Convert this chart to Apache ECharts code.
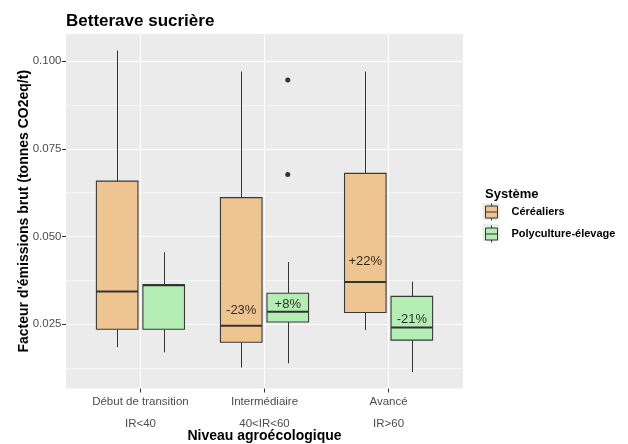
<!DOCTYPE html>
<html lang="fr">
<head>
<meta charset="UTF-8">
<title>Betterave sucrière</title>
<script src="https://cdn.jsdelivr.net/npm/echarts@6/dist/echarts.min.js"></script>
<style>html,body{margin:0;padding:0;background:#fff;}</style>
</head>
<body>
<div id="boxChart" style="width:628px;height:444px;"></div>
<script>
    // niveaux agroécologiques (axe x)
    let niveaux = ['Début de transition', 'Intermédiaire', 'Avancé'];
    let niveauxIR = ['IR<40', '40<IR<60', 'IR>60'];
    let yTicks = [0.025, 0.05, 0.075, 0.1];
    let yMinorTicks = [0.0125, 0.0375, 0.0625, 0.0875];

    // [min, Q1, médiane, Q3, max]
    let cerealiers = [
        [0.0184, 0.0235, 0.0343, 0.0658, 0.1031],
        [0.0126, 0.0198, 0.0245, 0.0611, 0.0971],
        [0.0233, 0.0283, 0.0370, 0.0680, 0.0971]
    ];
    let polyculture = [
        [0.0169, 0.0235, 0.0361, 0.0362, 0.0455],
        [0.0138, 0.0256, 0.0285, 0.0338, 0.0427],
        [0.0113, 0.0204, 0.0240, 0.0329, 0.0371]
    ];
    let polyOutliers = [[1, 0.0947], [1, 0.0677]];

    // écarts affichés sur les boîtes
    let cerealLabels = ['', '-23%', '+22%'];
    let cerealLabelY = [null, 0.0289, 0.0428];
    let polyLabels = ['', '+8%', '-21%'];
    let polyLabelY = [null, 0.0306, 0.0263];

    let couleurCereal = '#EEC591';
    let couleurPoly = '#B4EEB4';
    let dodge = 0.1875;
    let boxWidth = 0.335;

    function boxRenderer(offset, fill) {
        return function (params, api) {
            let x = api.value(0) + offset;
            let left = api.coord([x - boxWidth / 2, 0])[0];
            let right = api.coord([x + boxWidth / 2, 0])[0];
            let cx = Math.round(api.coord([x, 0])[0]) + 0.5;
            let yMin = api.coord([x, api.value(1)])[1];
            let yQ1 = api.coord([x, api.value(2)])[1];
            let yMed = api.coord([x, api.value(3)])[1];
            let yQ3 = api.coord([x, api.value(4)])[1];
            let yMax = api.coord([x, api.value(5)])[1];
            let trait = {stroke: '#333', lineWidth: 1};
            return {
                type: 'group',
                children: [
                    {type: 'line', shape: {x1: cx, y1: yMax, x2: cx, y2: yQ3}, style: trait},
                    {type: 'line', shape: {x1: cx, y1: yQ1, x2: cx, y2: yMin}, style: trait},
                    {
                        type: 'rect',
                        shape: {x: left, y: yQ3, width: right - left, height: yQ1 - yQ3},
                        style: {fill: fill, stroke: '#3a3a3a', lineWidth: 1.1}
                    },
                    {type: 'line', shape: {x1: left, y1: yMed, x2: right, y2: yMed}, style: {stroke: '#333', lineWidth: 2.1}}
                ]
            };
        };
    }

    function labelData(labels, ys, offset) {
        let out = [];
        labels.forEach(function (t, i) {
            if (t) out.push([i + offset, ys[i], t]);
        });
        return out;
    }

    let iconeBoite = 'path://M6,0 L6,2.5 M0,2.5 L12,2.5 L12,14.5 L0,14.5 Z M0,8.5 L12,8.5 M6,14.5 L6,17';

    let myChart = echarts.init(document.getElementById('boxChart'));
    let option = {
        animation: false,
        title: [{
            text: 'Betterave sucrière',
            left: 66,
            top: 13,
            padding: 0,
            textStyle: {fontFamily: 'Liberation Sans', fontSize: 17, fontWeight: 'bold', color: '#000'}
        }, {
            text: 'Système',
            left: 485,
            top: 188,
            padding: 0,
            textStyle: {fontFamily: 'Liberation Sans', fontSize: 13, fontWeight: 'bold', color: '#000'}
        }],
        legend: {
            orient: 'vertical',
            left: 485,
            top: 203,
            padding: 0,
            itemWidth: 12,
            itemHeight: 17,
            itemGap: 4,
            selectedMode: false,
            textStyle: {fontFamily: 'Liberation Sans', fontSize: 11, fontWeight: 'bold', color: '#000', padding: [0, 0, 0, 9]},
            data: [
                {name: 'Céréaliers', icon: iconeBoite, itemStyle: {color: couleurCereal, borderColor: '#333', borderWidth: 1}},
                {name: 'Polyculture-élevage', icon: iconeBoite, itemStyle: {color: couleurPoly, borderColor: '#333', borderWidth: 1}}
            ]
        },
        graphic: [
            {type: 'rect', left: 482.5, top: 203, z: -1, shape: {width: 17, height: 17}, style: {fill: '#EBEBEB'}},
            {type: 'rect', left: 482.5, top: 224, z: -1, shape: {width: 17, height: 17}, style: {fill: '#EBEBEB'}}
        ],
        grid: {
            left: 66,
            top: 34,
            width: 397,
            height: 354.5,
            outerBoundsMode: 'none',
            show: true,
            backgroundColor: '#EBEBEB',
            borderWidth: 0
        },
        xAxis: {
            type: 'value',
            min: -0.6,
            max: 2.6,
            name: 'Niveau agroécologique',
            nameLocation: 'middle',
            nameGap: 41,
            nameMoveOverlap: false,
            nameTextStyle: {fontFamily: 'Liberation Sans', fontSize: 14, fontWeight: 'bold', color: '#000'},
            axisLine: {show: false, onZero: false},
            axisTick: {show: true, length: 4, customValues: [0, 1, 2], lineStyle: {color: '#333'}},
            axisLabel: {
                customValues: [0, 1, 2],
                margin: 2,
                fontFamily: 'Liberation Sans',
                fontSize: 11.5,
                lineHeight: 22,
                color: '#4D4D4D',
                formatter: function (v) {
                    let i = Math.round(v);
                    return niveaux[i] + '\n' + niveauxIR[i];
                }
            },
            splitLine: {show: true, lineStyle: {color: '#fff', width: 1.1}}
        },
        yAxis: [{
            type: 'value',
            min: 0.0066,
            max: 0.1078,
            name: "Facteur d'émissions brut (tonnes CO2eq/t)",
            nameLocation: 'middle',
            nameGap: 35,
            nameMoveOverlap: false,
            nameTextStyle: {fontFamily: 'Liberation Sans', fontSize: 14, fontWeight: 'bold', color: '#000'},
            axisLine: {show: false, onZero: false},
            axisTick: {show: true, length: 4, customValues: yTicks, lineStyle: {color: '#333'}},
            axisLabel: {
                customValues: yTicks,
                margin: 4.5,
                fontFamily: 'Liberation Sans',
                fontSize: 11.5,
                color: '#4D4D4D',
                formatter: function (v) { return v.toFixed(3); }
            },
            splitLine: {show: true, lineStyle: {color: '#fff', width: 1.1}}
        }, {
            type: 'value',
            min: 0.0066,
            max: 0.1078,
            position: 'left',
            axisLine: {show: false, onZero: false},
            axisTick: {show: false, customValues: yMinorTicks},
            axisLabel: {show: false, customValues: yMinorTicks},
            splitLine: {show: true, lineStyle: {color: '#fff', width: 0.55}}
        }],
        series: [{
            name: 'Céréaliers',
            type: 'custom',
            itemStyle: {color: couleurCereal},
            renderItem: boxRenderer(-dodge, couleurCereal),
            encode: {x: 0, y: [1, 2, 3, 4, 5]},
            data: cerealiers.map(function (d, i) { return [i].concat(d); })
        }, {
            name: 'Polyculture-élevage',
            type: 'custom',
            itemStyle: {color: couleurPoly},
            renderItem: boxRenderer(dodge, couleurPoly),
            encode: {x: 0, y: [1, 2, 3, 4, 5]},
            data: polyculture.map(function (d, i) { return [i].concat(d); })
        }, {
            type: 'scatter',
            symbolSize: 5,
            itemStyle: {color: '#333', opacity: 1},
            data: polyOutliers.map(function (d) { return [d[0] + dodge, d[1]]; })
        }, {
            type: 'scatter',
            symbolSize: 0,
            z: 5,
            label: {
                show: true,
                position: 'inside',
                fontFamily: 'Liberation Sans',
                fontSize: 13,
                color: '#000',
                formatter: function (p) { return p.data[2]; }
            },
            data: labelData(cerealLabels, cerealLabelY, -dodge).concat(labelData(polyLabels, polyLabelY, dodge))
        }]
    };
    myChart.setOption(option);
</script>
</body>
</html>
